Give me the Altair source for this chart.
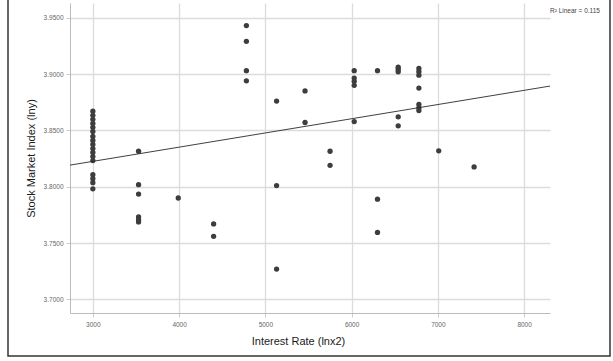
import altair as alt
import pandas as pd

# Scatter points: interest rate (lnx2) and stock index (lny)
rate = [
    3000, 3000, 3000, 3000, 3000, 3000, 3000, 3000, 3000, 3000, 3000, 3000, 3000, 3000, 3000, 3000, 3000,
    3530, 3530, 3530, 3530, 3530, 3530,
    3990,
    4400, 4400,
    4780, 4780, 4780, 4780,
    5130, 5130, 5130,
    5460, 5460,
    5750, 5750,
    6030, 6030, 6030, 6030, 6030,
    6300, 6300, 6300,
    6540, 6540, 6540, 6540, 6540,
    6780, 6780, 6780, 6780, 6780, 6780, 6780,
    7010,
    7420,
]
index = [
    3.8670, 3.8634, 3.8598, 3.8562, 3.8527, 3.8491, 3.8446, 3.8411, 3.8375, 3.8339, 3.8304, 3.8268, 3.8232, 3.8107, 3.8071, 3.8036, 3.7982,
    3.8315, 3.8018, 3.7935, 3.7732, 3.7705, 3.7688,
    3.7900,
    3.7670, 3.7560,
    3.9430, 3.9290, 3.9030, 3.8940,
    3.8760, 3.8010, 3.7270,
    3.8850, 3.8570,
    3.8315, 3.8190,
    3.9030, 3.8964, 3.8935, 3.8900, 3.8578,
    3.9030, 3.7890, 3.7595,
    3.9060, 3.9040, 3.9020, 3.8620, 3.8540,
    3.9050, 3.9020, 3.8990, 3.8875, 3.8730, 3.8700, 3.8676,
    3.8319,
    3.8176,
]

x_ticks = [3000, 4000, 5000, 6000, 7000, 8000]
y_ticks = [3.70, 3.75, 3.80, 3.85, 3.90, 3.95]
legend_text = ["R\u00b2 Linear = 0.115"]

df = pd.DataFrame({"rate": rate, "index": index})

X_DOM = [2735, 8300]
Y_DOM = [3.688, 3.963]

xs = alt.Scale(domain=X_DOM, nice=False, zero=False)
ys = alt.Scale(domain=Y_DOM, nice=False, zero=False)

x_axis = alt.Axis(
    values=x_ticks, format="d", title="Interest Rate (lnx2)",
    grid=True, gridColor="#dcdcdc", gridWidth=1.3,
    domainColor="#bbbbbb", tickColor="#cccccc", tickSize=4,
    labelFont="Liberation Sans", labelFontSize=6.5, labelColor="#666666", labelPadding=4,
    titleFont="Liberation Sans", titleFontSize=11, titleFontWeight="normal", titleColor="#1a1a1a",
    titlePadding=8, titleX=228,
)
y_axis = alt.Axis(
    values=y_ticks, format=".4f", title="Stock Market Index (lny)",
    grid=True, gridColor="#dcdcdc", gridWidth=1.3,
    domainColor="#bbbbbb", tickColor="#cccccc", tickSize=4,
    labelFont="Liberation Sans", labelFontSize=6.5, labelColor="#666666", labelPadding=3,
    titleFont="Liberation Sans", titleFontSize=11, titleFontWeight="normal", titleColor="#1a1a1a",
    titlePadding=7,
)

base = alt.Chart(df)

points = base.mark_circle(size=28, color="#3d3d3d", opacity=1).encode(
    x=alt.X("rate:Q", scale=xs, axis=x_axis),
    y=alt.Y("index:Q", scale=ys, axis=y_axis),
)

fit = base.transform_regression("rate", "index", extent=X_DOM).mark_line(
    color="#2a2a2a", strokeWidth=0.9
).encode(x=alt.X("rate:Q", scale=xs), y=alt.Y("index:Q", scale=ys))

legend = alt.Chart(pd.DataFrame({"t": legend_text})).mark_text(
    align="left", baseline="middle", fontSize=6.5, font="Liberation Sans", color="#444444"
).encode(x=alt.value(480), y=alt.value(8), text="t:N")

frame = alt.Chart(pd.DataFrame({"t": legend_text})).mark_rect(
    fill=None, stroke="#333333", strokeWidth=1.5
).encode(x=alt.value(-62), x2=alt.value(540), y=alt.value(-10), y2=alt.value(353))

chart = alt.layer(points, fit, legend, frame).properties(
    width=480, height=310,
    autosize=alt.AutoSizeParams(type="none"),
    padding={"left": 70, "top": 3, "right": 63, "bottom": 48},
    background="white",
).configure_view(stroke=None)

chart.save("out.html", embed_options={"renderer": "svg", "actions": False})
